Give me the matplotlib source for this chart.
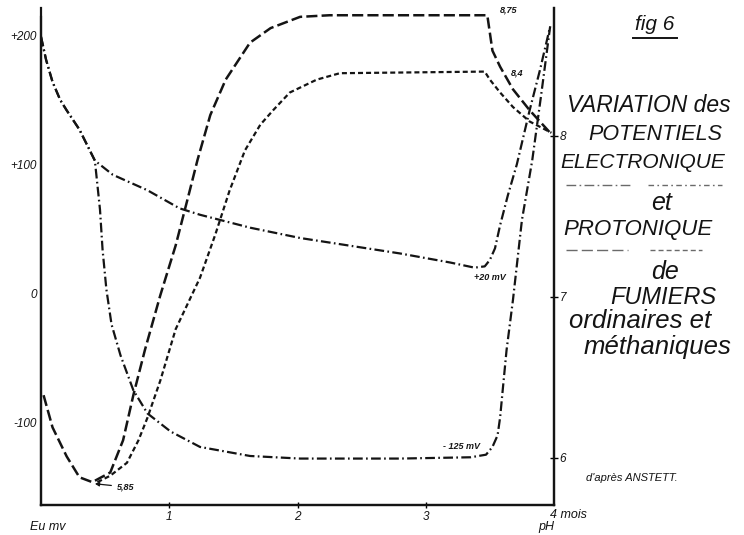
import matplotlib

matplotlib.use("Agg")
import matplotlib.pyplot as plt
from matplotlib import font_manager
from matplotlib.lines import Line2D

# months since start of storage
eh_1_x = [0.00, 0.04, 0.09, 0.15, 0.20, 0.30, 0.36, 0.42, 0.56, 0.83, 1.08, 1.24,
          1.63, 2.02, 2.41, 2.80, 3.19, 3.38, 3.46, 3.50, 3.54, 3.58, 3.64, 3.71,
          3.81, 3.89, 3.97]
eh_1_v = [199, 181, 164, 150, 142, 127, 115, 103, 92, 80, 66, 61,
          51, 43, 37, 31, 24, 20, 21, 26, 35, 53, 76, 100,
          142, 173, 207]

eh_2_x = [0.00, 0.04, 0.09, 0.15, 0.20, 0.30, 0.36, 0.42, 0.44, 0.46, 0.48, 0.51,
          0.55, 0.62, 0.72, 0.83, 1.01, 1.24, 1.63, 2.02, 2.80, 3.35, 3.47, 3.52,
          3.56, 3.58, 3.60, 3.63, 3.68, 3.75, 3.83, 3.90, 3.97]
eh_2_v = [199, 181, 164, 150, 142, 127, 115, 103, 84, 65, 34, 3,
          -24, -48, -75, -93, -107, -119, -126, -128, -128, -127, -125, -119,
          -110, -96, -75, -44, -5, 57, 103, 154, 207]

ph_1_x = [0.02, 0.09, 0.20, 0.30, 0.40, 0.54, 0.64, 0.72, 0.81, 0.93, 1.05, 1.15,
          1.22, 1.32, 1.44, 1.63, 1.79, 2.02, 2.25, 3.48, 3.50, 3.52, 3.58, 3.68,
          3.81, 3.97]
ph_1_v = [6.39, 6.19, 6.01, 5.88, 5.85, 5.91, 6.11, 6.39, 6.67, 7.01, 7.32, 7.63,
          7.85, 8.13, 8.35, 8.58, 8.67, 8.74, 8.75, 8.75, 8.64, 8.53, 8.43, 8.29,
          8.16, 8.02]

ph_2_x = [0.44, 0.54, 0.67, 0.76, 0.83, 0.93, 1.05, 1.24, 1.36, 1.47, 1.59, 1.71,
          1.81, 1.94, 2.15, 2.33, 3.46, 3.50, 3.58, 3.68, 3.81, 3.98]
ph_2_v = [5.85, 5.89, 5.97, 6.11, 6.25, 6.48, 6.80, 7.12, 7.39, 7.66, 7.91, 8.07,
          8.16, 8.27, 8.35, 8.39, 8.40, 8.35, 8.27, 8.18, 8.09, 8.02]

eh_ticks = [200, 100, 0, -100]
eh_labels = ["+200", "+100", "0", "-100"]
month_ticks = [1, 2, 3]
ph_ticks = [6, 7, 8]

INK = "#141414"
W, H = 744, 535

names = {f.name for f in font_manager.fontManager.ttflist}
FONT = "Liberation Sans Narrow" if "Liberation Sans Narrow" in names else "Liberation Sans"
plt.rcParams["font.family"] = [FONT, "DejaVu Sans"]
plt.rcParams["lines.scale_dashes"] = False

LONG = (0, (8, 3))
SHORT = (0, (3.6, 2.2))
DASHDOT = (0, (7, 2.4, 1.2, 2.4))


def px(x, y):
    return x / W, 1 - y / H


fig = plt.figure(figsize=(W / 100, H / 100), dpi=100)
fig.patch.set_facecolor("white")
l, b = px(41, 505)
ax = fig.add_axes([l, b, (554 - 41) / W, (505 - 8) / H])
ax.set_xlim(0, 4)
ax.set_ylim(-164, 221.3)
ax2 = ax.twinx()
ax2.set_ylim(5.708, 8.795)

ax.plot(eh_1_x, eh_1_v, color=INK, lw=1.6, linestyle=DASHDOT)
ax.plot(eh_2_x, eh_2_v, color=INK, lw=1.6, linestyle=DASHDOT)
ax2.plot(ph_1_x, ph_1_v, color=INK, lw=1.8, linestyle=LONG)
ax2.plot(ph_2_x, ph_2_v, color=INK, lw=1.6, linestyle=SHORT)

for a in (ax, ax2):
    a.spines["top"].set_visible(False)
    for s in ("left", "right", "bottom"):
        a.spines[s].set_linewidth(1.6)
        a.spines[s].set_color(INK)
ax.spines["left"].set_bounds(-164, 214)

tick_font = dict(style="italic", fontsize=8.5, color=INK)
ax.set_yticks(eh_ticks)
ax.set_yticklabels(eh_labels, **tick_font)
ax.tick_params(axis="y", length=0, pad=3)
ax.set_xticks(month_ticks)
ax.set_xticklabels([str(m) for m in month_ticks], **tick_font)
ax.tick_params(axis="x", length=4, direction="inout", width=1, pad=2)
ax2.set_yticks(ph_ticks)
ax2.set_yticklabels([str(p) for p in ph_ticks], **tick_font)
ax2.tick_params(axis="y", length=6, direction="inout", width=1, pad=1)

# values written along the curves
small = dict(style="italic", fontsize=6.5, color=INK, fontweight="bold")
ax2.text(3.65, 8.78, "8,75", ha="center", va="center", **small)
ax2.text(3.71, 8.39, "8,4", ha="center", va="center", **small)
ax.text(3.50, 12, "+20 mV", ha="center", va="center", **small)
ax.text(3.28, -119, "- 125 mV", ha="center", va="center", **small)
ax2.annotate("5,85", xy=(0.42, 5.84), xytext=(0.66, 5.82),
             ha="center", va="center", **small,
             arrowprops=dict(arrowstyle="-|>", lw=0.9, color=INK,
                             mutation_scale=6, shrinkA=2, shrinkB=0))

lab = dict(style="italic", fontsize=9, color=INK)
fig.text(*px(48, 527), "Eu mv", ha="center", va="center", **lab)
fig.text(*px(546, 527), "pH", ha="center", va="center", **lab)
fig.text(*px(568, 515), "4 mois", ha="center", va="center", **lab)
fig.text(*px(632, 478), "d'après ANSTETT.", ha="center", va="center",
         style="italic", fontsize=8, color=INK)

fig.text(*px(655, 24), "fig 6", ha="center", va="center",
         style="italic", fontsize=15, color=INK)
fig.add_artist(Line2D([633 / W, 677 / W], [1 - 38 / H] * 2, color=INK, lw=1.4))

title = [
    ("VARIATION des", 649, 105, 16.5),
    ("POTENTIELS", 655, 134, 15.5),
    ("ELECTRONIQUE", 643, 163, 15),
    ("et", 662, 203, 18),
    ("PROTONIQUE", 638, 230, 16),
    ("de", 665, 272, 18),
    ("FUMIERS", 663, 297, 17),
    ("ordinaires et", 640, 321, 18.5),
    ("méthaniques", 658, 347, 18.5),
]
for txt, x, y, fs in title:
    fig.text(*px(x, y), txt, ha="center", va="center",
             style="italic", fontsize=fs, color=INK)

# key strokes under ELECTRONIQUE and PROTONIQUE
keys = [
    (566, 630, 185, DASHDOT), (648, 722, 185, (0, (4, 2.4, 1.2, 2.4))),
    (566, 628, 250, LONG), (650, 702, 250, SHORT),
]
for x0, x1, y, ls in keys:
    fig.add_artist(Line2D([x0 / W, x1 / W], [1 - y / H] * 2, color="#6a6a6a",
                          lw=1.0, linestyle=ls))

fig.savefig("out.png", dpi=100, facecolor="white")
